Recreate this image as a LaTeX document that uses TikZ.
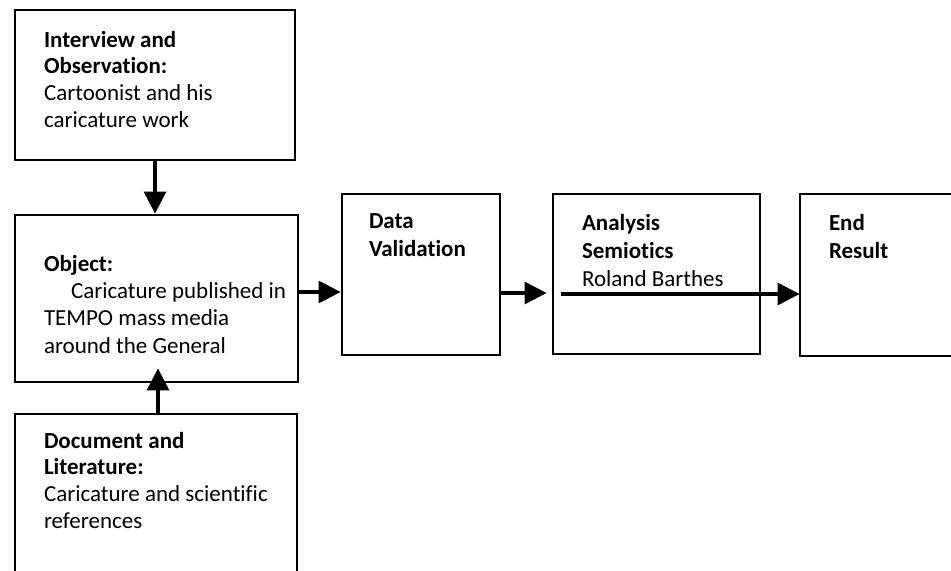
\documentclass[tikz,border=0pt]{standalone}
\usepackage{fontspec}
\setmainfont{Carlito}[Ligatures=NoCommon]
\usetikzlibrary{positioning, arrows.meta}

\begin{document}
\begin{tikzpicture}[
  x=0.5pt, y=-0.5pt,
  box/.style={draw, line width=1.4pt, inner sep=0pt},
  txt/.style={align=left, inner sep=0pt, font=\fontsize{11.5}{13.4}\selectfont},
  wtxt/.style={txt, font=\fontsize{11.5}{14}\selectfont},
  flow/.style={-{Triangle[length=11pt,width=11pt]}, line width=1.6pt}
]
  \useasboundingbox (0,0) rectangle (951,571);
  \clip (0,0) rectangle (951,571);

  % Boxes
  \node[box, minimum width=140pt, minimum height=75pt] (intv) at (155,85) {};
  \node[box, minimum width=141.5pt, minimum height=83.5pt] (obj) at (156.5,298.5) {};
  \node[box, minimum width=141pt, minimum height=93pt] (doc) at (156,507) {};
  \node[box, minimum width=79pt, minimum height=80.5pt] (data) at (421,274.5) {};
  \node[box, minimum width=103.5pt, minimum height=80pt] (anal) at (656.5,274) {};
  \node[box, minimum width=100pt, minimum height=81pt] (endr) at (900,275) {};

  % Texts
  \node[txt, below right=11pt and 15pt of intv.north west] (intvtxt)
    {\textbf{Interview and}\\\textbf{Observation:}\\Cartoonist and his\\caricature work};
  \node[txt, below right=20.5pt and 15pt of obj.north west, font=\fontsize{11.5}{13.7}\selectfont] (objtxt)
    {\textbf{Object:}\\\hspace*{13.5pt}Caricature published in\\TEMPO mass media\\around the General};
  \node[txt, below right=9.5pt and 15pt of doc.north west] (doctxt)
    {\textbf{Document and}\\\textbf{Literature:}\\Caricature and scientific\\references};
  \node[wtxt, below right=10.5pt and 14pt of data.north west] (datatxt)
    {\textbf{Data}\\\textbf{Validation}};
  \node[wtxt, below right=10.5pt and 15pt of anal.north west] (analtxt)
    {\textbf{Analysis}\\\textbf{Semiotics}\\Roland Barthes};
  \node[wtxt, below right=10.5pt and 15pt of endr.north west] (endrtxt)
    {\textbf{End}\\\textbf{Result}};

  % Arrows
  \draw[flow] (intv.south) -- (intv.south |- obj.north);
  \draw[flow, shorten >=-7.5pt] ([xshift=1pt]doc.north) -- ([xshift=1pt]doc.north |- obj.south);
  \draw[flow] ([yshift=3.25pt]obj.east) -- ([yshift=3.25pt]obj.east -| data.west);
  \draw[flow, shorten >=2.5pt] ([yshift=-9.25pt]data.east) -- ([yshift=-9.25pt]data.east -| anal.west);
  \draw[flow, shorten >=4pt] ([xshift=4.5pt,yshift=-10pt]anal.west) -- ([xshift=4.5pt,yshift=-10pt]anal.west -| endr.west);
\end{tikzpicture}
\end{document}
